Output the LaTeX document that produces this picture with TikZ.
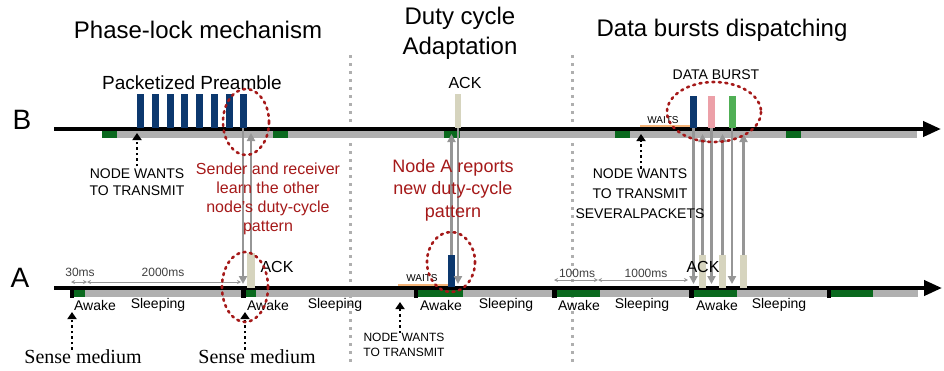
\documentclass[tikz,border=0pt]{standalone}
\usepackage{fontspec}
\setmainfont{Liberation Sans}
\newfontfamily\sensefont{Liberation Serif}
\usetikzlibrary{arrows.meta}
\definecolor{navyc}{RGB}{12,56,110}
\definecolor{ackc}{RGB}{214,212,190}
\definecolor{awakec}{RGB}{10,105,30}
\definecolor{sleepc}{RGB}{176,176,176}
\definecolor{redc}{RGB}{165,25,25}
\definecolor{waitc}{RGB}{245,180,120}
\definecolor{pinkc}{RGB}{236,160,168}
\definecolor{greenc}{RGB}{80,175,85}
\definecolor{arrc}{RGB}{150,150,150}
\definecolor{sepc}{RGB}{175,175,175}
\begin{document}
\begin{tikzpicture}[x=1pt,y=-1pt,
  axis/.style={line width=4pt,-{Triangle[length=18pt,width=15pt]}},
  bar/.style={draw=none,inner sep=0pt,minimum width=7pt,anchor=south},
  vline/.style={draw=arrc,line width=2.5pt,-{Triangle[length=8pt,width=8pt]}},
  dotarrow/.style={line width=2.5pt,dash pattern=on 2.5pt off 3pt,-{Triangle[length=7pt,width=9pt]}},
  ell/.style={draw=redc,line width=2.6pt,dash pattern=on 2pt off 4.5pt,line cap=round},
  sepline/.style={draw=sepc,line width=3pt,dash pattern=on 3pt off 5pt},
  dur/.style={draw=arrc,line width=1pt,{Stealth[length=4pt,width=4pt]}-{Stealth[length=4pt,width=4pt]}},
  waitline/.style={draw=waitc,line width=2pt},
  txt/.style={inner sep=0pt,align=center},
  title/.style={txt,font=\fontsize{24}{30}\selectfont},
  state/.style={txt,font=\fontsize{14}{16}\selectfont},
  redtxt/.style={txt,text=redc},
  ms/.style={txt,text=black!75,font=\fontsize{12}{14}\selectfont},
  acklab/.style={txt,font=\fontsize{16}{18}\selectfont}
]
\useasboundingbox (0,0) rectangle (944,370);

% separators
\coordinate (s1a) at (350,55); \coordinate (s1b) at (350,366);
\coordinate (s2a) at (572,55); \coordinate (s2b) at (572,366);
\draw[sepline] (s1a) -- (s1b);
\draw[sepline] (s2a) -- (s2b);

% titles
\node[title] (t1) at (198,30) {Phase-lock mechanism};
\node[title] (t2) at (460,33) {Duty cycle\\Adaptation};
\node[title] (t3) at (722,30) {Data bursts dispatching};

% node labels
\node[txt,font=\fontsize{28}{30}\selectfont] (labB) at (22,120) {B};
\node[txt,font=\fontsize{28}{30}\selectfont] (labA) at (20,278) {A};

% B time bar
\fill[sleepc] (102,131) rectangle (917,138);
\foreach \a/\b in {102/117,273/288,444/460,615/630,786/801}
  \fill[awakec] (\a,131) rectangle (\b,138);
% A time bar
\fill[sleepc] (70,290) rectangle (918,297);
\foreach \a/\b in {74/85,246/256,418/463,557/600,694/737,831/873}
  \fill[awakec] (\a,290) rectangle (\b,297);
\foreach \a/\b in {70/74,241/246,414/418,552/557,689/694,827/831}
  \fill[black] (\a,286) rectangle (\b,298);

% axes
\coordinate (B0) at (54,129); \coordinate (B1) at (941,129);
\coordinate (A0) at (54,288); \coordinate (A1) at (942,288);
\draw[axis] (B0) -- (B1);
\draw[axis] (A0) -- (A1);

% waits
\coordinate (wa0) at (398,285); \coordinate (wa1) at (448,285);
\draw[waitline] (wa0) -- (wa1);
\node[txt,font=\fontsize{10}{12}\selectfont] (waitA) at (422,278) {WAITS};
\coordinate (wb0) at (640,126); \coordinate (wb1) at (690,126);
\draw[waitline] (wb0) -- (wb1);
\node[txt,font=\fontsize{10}{12}\selectfont] (waitB) at (663,120) {WAITS};

% preamble packets
\foreach \i/\x in {1/140.5,2/155,3/170,4/184.5,5/199.5,6/214.5,7/229.5,8/243}
  \node[bar,fill=navyc,minimum height=34pt] (p\i) at (\x,128) {};
\node[txt,font=\fontsize{19}{21}\selectfont] (pre) at (192,83) {Packetized Preamble};

% ACK of phase 1 on A
\node[bar,fill=ackc,minimum width=8pt,minimum height=35pt] (ack1) at (251,288) {};

% duty cycle adaptation
\node[bar,fill=navyc,minimum height=32pt] (na) at (451.5,287) {};
\node[bar,fill=ackc,minimum width=6pt,minimum height=34pt] (ackm) at (458,128) {};
\node[acklab] (ackml) at (465,83) {ACK};

% data burst
\node[bar,fill=navyc,minimum height=32pt] (d1) at (693.5,128) {};
\node[bar,fill=pinkc,minimum height=32pt] (d2) at (711.5,128) {};
\node[bar,fill=greenc,minimum height=32pt] (d3) at (732,128) {};
\node[bar,fill=ackc,minimum height=33pt] (k1) at (702.5,288) {};
\node[bar,fill=ackc,minimum height=33pt] (k2) at (722.5,288) {};
\node[bar,fill=ackc,minimum height=33pt] (k3) at (743.5,288) {};
\node[txt,font=\fontsize{14}{16}\selectfont] (db) at (716,75) {DATA BURST};

% vertical exchange arrows
\coordinate (e1) at (243,284);
\coordinate (e2) at (251,133);
\coordinate (e3) at (451.5,134);
\coordinate (e4) at (458,284);
\draw[vline] (p8.south) -- (e1);
\draw[vline] (ack1.north) -- (e2);
\draw[vline] (na.north) -- (e3);
\draw[vline] (ackm.south) -- (e4);
\foreach \n/\x in {d1/693.5,d2/711.5,d3/732}{
  \coordinate (\n e) at (\x,284);
  \draw[vline] (\n.south) -- (\n e);
}
\foreach \n/\x in {k1/702.5,k2/722.5,k3/743.5}{
  \coordinate (\n e) at (\x,134);
  \draw[vline] (\n.north) -- (\n e);
}

% ACK labels on A, above the arrows
\node[acklab] (ack1l) at (277,267) {ACK};
\node[acklab] (ack3l) at (703,267) {ACK};

% durations
\coordinate (m0) at (71,282); \coordinate (m1) at (87,282); \coordinate (m2) at (241,282);
\draw[dur] (m0) -- (m1);
\draw[dur] (m1) -- (m2);
\node[ms] (ms30) at (80,272) {30ms};
\node[ms] (ms2000) at (163,272) {2000ms};
\coordinate (n0) at (554,280); \coordinate (n1) at (598,280); \coordinate (n2) at (688,280);
\draw[dur] (n0) -- (n1);
\draw[dur] (n1) -- (n2);
\node[ms] (ms100) at (577,273) {100ms};
\node[ms] (ms1000) at (646,273) {1000ms};

% state labels
\foreach \i/\x/\t in {1/95/Awake,2/158/Sleeping,3/268/Awake,4/335/Sleeping,5/441/Awake,6/506/Sleeping,7/579/Awake,8/642/Sleeping,9/717/Awake,10/779/Sleeping}
  \node[state] (st\i) at (\x,305) {\t};

% sense medium
\node[txt,font=\sensefont\fontsize{20}{22}\selectfont] (sm1) at (83,357) {Sense medium};
\node[txt,font=\sensefont\fontsize{20}{22}\selectfont] (sm2) at (257,357) {Sense medium};
\coordinate (sm1t) at (72,312); \coordinate (sm2t) at (245,312);
\draw[dotarrow] (sm1.north -| sm1t) -- (sm1t);
\draw[dotarrow] (sm2.north -| sm2t) -- (sm2t);

% node wants to transmit labels
\node[txt,font=\fontsize{14}{17}\selectfont] (nw1) at (137,182) {NODE WANTS\\TO TRANSMIT};
\coordinate (nw1t) at (137,133);
\draw[dotarrow] (nw1.north) ++(0,-2) -- (nw1t);
\node[txt,font=\fontsize{12}{15}\selectfont] (nw2) at (404,345) {NODE WANTS\\TO TRANSMIT};
\coordinate (nw2t) at (400,302);
\draw[dotarrow] (nw2.north -| nw2t) -- (nw2t);
\node[txt,font=\fontsize{14}{20}\selectfont] (nw3) at (640,194) {NODE WANTS\\TO TRANSMIT\\SEVERALPACKETS};
\coordinate (nw3t) at (641,134);
\draw[dotarrow] (nw3.north -| nw3t) -- (nw3t);

% red explanations
\node[redtxt,font=\fontsize{16}{19}\selectfont] (r1) at (268,199) {Sender and receiver\\learn the other\\node's duty-cycle\\pattern};
\node[redtxt,font=\fontsize{18}{22.5}\selectfont] (r2) at (453,190) {Node A reports\\new duty-cycle\\pattern};

% dotted ellipses
\draw[ell] (246,122) ellipse [x radius=23, y radius=33];
\draw[ell] (245,287) ellipse [x radius=23, y radius=35];
\draw[ell] (451,262) ellipse [x radius=24, y radius=30];
\draw[ell] (714,112) ellipse [x radius=47, y radius=30];
\end{tikzpicture}
\end{document}
